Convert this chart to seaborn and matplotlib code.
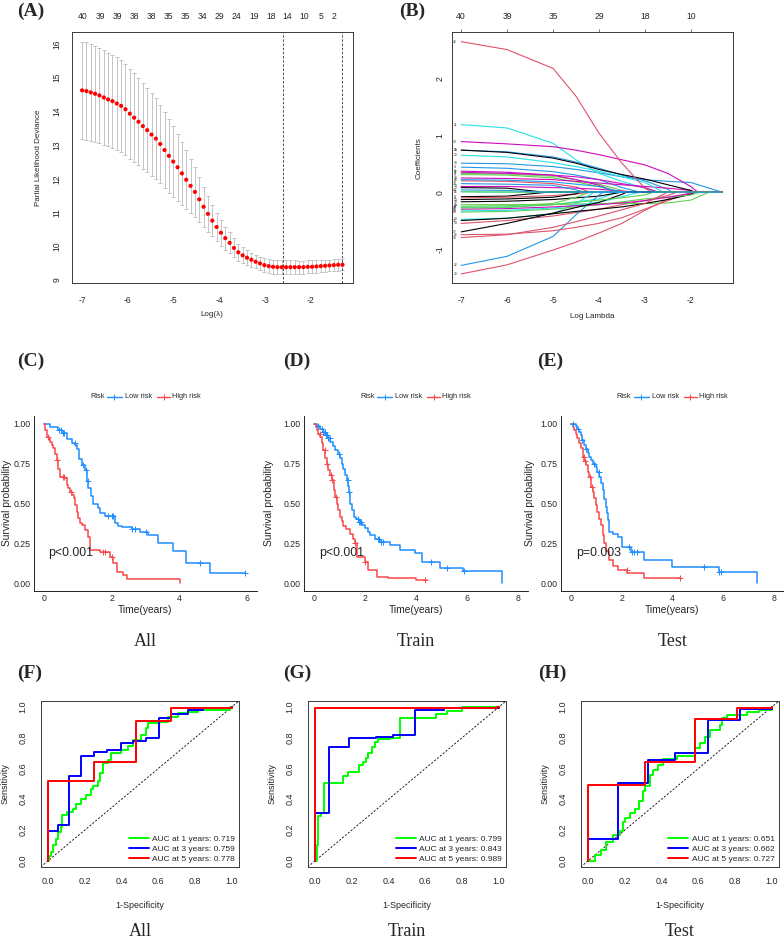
import numpy as np
import matplotlib
matplotlib.use("Agg")
import matplotlib.pyplot as plt
from matplotlib.lines import Line2D
import seaborn as sns

W, H = 784, 943

# ---------------- (A) cross-validated partial likelihood deviance ----------------
cv_loglambda = np.linspace(-7.0, -1.31, 61)   # glmnet lambda grid, even on the log scale
cv_deviance = [14.62, 14.60, 14.56, 14.52, 14.47, 14.41, 14.35, 14.30, 14.23, 14.16,
               14.06, 13.93, 13.81, 13.69, 13.56, 13.44, 13.31, 13.19, 13.03, 12.85,
               12.68, 12.51, 12.34, 12.16, 11.97, 11.79, 11.61, 11.39, 11.17, 10.96,
               10.76, 10.57, 10.40, 10.24, 10.10, 9.95, 9.82, 9.73, 9.66, 9.60,
               9.54, 9.49, 9.44, 9.41, 9.39, 9.38, 9.38, 9.38, 9.38, 9.38,
               9.38, 9.38, 9.39, 9.39, 9.40, 9.41, 9.42, 9.43, 9.44, 9.45, 9.45]
cv_se = [1.44, 1.44, 1.43, 1.42, 1.41, 1.40, 1.39, 1.38, 1.37, 1.36, 1.35,
         1.33, 1.31, 1.29, 1.27, 1.25, 1.23, 1.20, 1.17, 1.13, 1.09,
         1.04, 0.99, 0.93, 0.87, 0.81, 0.74, 0.67, 0.60, 0.53, 0.47,
         0.42, 0.38, 0.34, 0.31, 0.28, 0.26, 0.24, 0.22, 0.21, 0.20,
         0.20, 0.20, 0.20, 0.20, 0.20, 0.20, 0.20, 0.20, 0.20, 0.19,
         0.19, 0.19, 0.19, 0.18, 0.18, 0.18, 0.17, 0.17, 0.17, 0.16]
cv_df_pos = [-6.98, -6.60, -6.23, -5.85, -5.48, -5.11, -4.74, -4.37,
             -4.00, -3.63, -3.24, -2.87, -2.52, -2.15, -1.78, -1.50]
cv_df_labels = [40, 39, 39, 38, 38, 35, 35, 34, 29, 24, 19, 18, 14, 10, 5, 2]
lambda_min = -2.60
lambda_1se = -1.31

# ---------------- (B) coefficient paths ----------------
coef_ids = list(range(1, 41))
coef_m7 = [0.08, 0.20, 0.33, 0.44, 0.01, 0.37, -0.08, -0.10, 0.31, 0.51,
           1.19, 0.35, -0.13, -0.55, 0.005, 0.74, -0.27, 0.25, -0.17, -1.44,
           -0.22, -1.29, -0.48, 0.10, 0.74, -0.75, -0.25, 0.22, 0.65, 0.89,
           -0.50, 2.65, -0.35, 0.15, -0.33, -0.30, -0.70, -0.80, -0.28, 0.04]
coef_m6 = [0.07, 0.19, 0.32, 0.42, 0.0, 0.35, -0.07, -0.09, 0.30, 0.50,
           1.13, 0.33, -0.12, -0.50, 0.003, 0.71, -0.26, 0.24, -0.16, -1.28,
           -0.22, -1.13, -0.46, 0.10, 0.70, -0.74, -0.24, 0.21, 0.62, 0.85,
           -0.46, 2.51, -0.34, 0.14, -0.32, -0.29, -0.55, -0.75, -0.27, 0.03]
coef_m5 = [0.0, 0.15, 0.28, 0.36, 0.0, 0.30, 0.0, -0.06, 0.25, 0.45,
           0.86, 0.30, -0.09, -0.42, 0.0, 0.62, -0.22, 0.22, -0.13, -1.02,
           -0.22, -0.78, -0.38, 0.08, 0.60, -0.68, -0.20, 0.18, 0.52, 0.80,
           -0.38, 2.18, -0.30, 0.12, -0.28, -0.26, -0.37, -0.62, -0.22, 0.0]
coef_m45 = [0.0, 0.09, 0.22, 0.30, 0.0, 0.22, 0.0, -0.03, 0.18, 0.40,
            0.57, 0.27, -0.03, -0.36, 0.0, 0.53, -0.17, 0.19, -0.10, -0.88,
            -0.21, -0.40, -0.20, 0.07, 0.51, -0.62, -0.09, 0.14, 0.45, 0.74,
            -0.34, 1.69, -0.26, 0.04, -0.23, -0.24, -0.27, -0.52, -0.18, 0.0]
coef_m4 = [0.0, 0.0, 0.14, 0.22, 0.0, 0.12, 0.0, 0.0, 0.10, 0.34,
           0.33, 0.22, 0.0, -0.30, 0.0, 0.42, -0.12, 0.16, -0.07, -0.72,
           -0.20, -0.05, 0.0, 0.05, 0.40, -0.55, 0.0, 0.10, 0.37, 0.66,
           -0.30, 1.04, -0.22, 0.0, -0.18, -0.22, -0.18, -0.42, -0.14, 0.0]
coef_m35 = [0.0, 0.0, 0.03, 0.08, 0.0, 0.0, 0.0, 0.0, 0.0, 0.27,
            0.19, 0.15, 0.0, -0.22, 0.0, 0.30, 0.0, 0.13, 0.0, -0.55,
            -0.20, 0.0, 0.0, 0.02, 0.31, -0.45, 0.0, 0.0, 0.27, 0.57,
            -0.26, 0.51, -0.17, 0.0, -0.08, -0.19, -0.04, -0.31, -0.10, 0.0]
coef_m3 = [0.0, 0.0, 0.0, 0.0, 0.0, 0.0, 0.0, 0.0, 0.0, 0.22,
           0.07, 0.08, 0.0, -0.15, 0.0, 0.20, 0.0, 0.10, 0.0, -0.32,
           -0.20, 0.0, 0.0, 0.0, 0.23, -0.30, 0.0, 0.0, 0.17, 0.48,
           -0.20, 0.07, -0.12, 0.0, 0.0, -0.15, 0.0, -0.20, -0.05, 0.0]
coef_m25 = [0.0, 0.0, 0.0, 0.0, 0.0, 0.0, 0.0, 0.0, 0.0, 0.19,
            0.0, 0.0, 0.0, -0.06, 0.0, 0.05, 0.0, 0.07, 0.0, -0.12,
            -0.19, 0.0, 0.0, 0.0, 0.13, -0.15, 0.0, 0.0, 0.0, 0.33,
            -0.13, 0.0, -0.09, 0.0, 0.0, -0.09, 0.0, 0.0, 0.0, 0.0]
coef_m2 = [0.0, 0.0, 0.0, 0.0, 0.0, 0.0, 0.0, 0.0, 0.0, 0.17,
           0.0, 0.0, 0.0, 0.0, 0.0, 0.0, 0.0, 0.03, 0.0, -0.03,
           -0.14, 0.0, 0.0, 0.0, 0.03, -0.01, 0.0, 0.0, 0.0, 0.10,
           -0.04, 0.0, -0.05, 0.0, 0.0, -0.02, 0.0, 0.0, 0.0, 0.0]
coef_zero_at = [-5.2, -4.2, -3.4, -3.1, -6.5, -3.6, -5.1, -4.1, -3.6, -1.32,
                -2.75, -2.7, -4.4, -2.3, -5.6, -2.4, -3.6, -1.9, -3.5, -1.95,
                -1.6, -3.9, -4.1, -3.2, -1.95, -1.98, -4.2, -3.5, -2.6, -1.85,
                -1.9, -2.85, -1.8, -4.3, -3.1, -1.95, -3.4, -2.5, -2.8, -5.3]
path_knots = [-7, -6, -5, -4.5, -4, -3.5, -3, -2.5, -2]
path_end = -1.32
path_df_pos = [-7, -6, -5, -4, -3, -2]
path_df_labels = [40, 39, 35, 29, 18, 10]

# ---------------- (C-E) Kaplan-Meier curves ----------------
c_low_t = [0, 0.16, 0.42, 0.52, 0.67, 0.82, 0.92, 0.97, 1.03, 1.11, 1.21, 1.28, 1.31, 1.38, 1.44,
           1.58, 1.65, 1.80, 2.10, 2.20, 2.30, 2.59, 2.84, 3.08, 3.38, 3.82, 4.21, 4.90, 5.94]
c_low_s = [1.0, 0.982, 0.961, 0.944, 0.908, 0.883, 0.867, 0.842, 0.78, 0.74, 0.71, 0.64, 0.60, 0.55, 0.50,
           0.47, 0.44, 0.42, 0.38, 0.36, 0.35, 0.34, 0.32, 0.30, 0.25, 0.20, 0.124, 0.061, 0.061]
c_high_t = [0, 0.04, 0.08, 0.13, 0.18, 0.23, 0.275, 0.33, 0.374, 0.42, 0.47, 0.62, 0.67, 0.72, 0.77, 0.82,
            0.87, 0.92, 0.965, 1.01, 1.06, 1.11, 1.21, 1.31, 1.36, 1.65, 1.95, 2.05, 2.15, 2.34, 2.44, 4.02]
c_high_s = [1.0, 0.96, 0.92, 0.905, 0.888, 0.867, 0.846, 0.81, 0.773, 0.72, 0.669, 0.658, 0.616, 0.595, 0.574, 0.553,
            0.532, 0.49, 0.449, 0.41, 0.375, 0.365, 0.333, 0.291, 0.207, 0.197, 0.165, 0.124, 0.071, 0.05, 0.023, 0.0]
c_low_cens = [0.45, 0.50, 0.55, 0.60, 0.90, 1.15, 1.25, 1.30, 1.90, 2.00, 2.05, 2.60, 2.70, 3.00, 4.60, 5.94]
c_high_cens = [0.10, 0.38, 0.55, 0.60, 0.80, 1.75, 1.80, 2.00]

d_low_t = [0, 0.10, 0.22, 0.32, 0.42, 0.52, 0.62, 0.72, 0.81, 0.91, 1.01, 1.08, 1.14, 1.21, 1.27, 1.31, 1.34, 1.38,
           1.41, 1.47, 1.54, 1.62, 1.75, 1.88, 2.00, 2.10, 2.20, 2.40, 2.59, 2.98, 3.37, 3.96, 4.22, 4.94, 5.86, 7.38]
d_low_s = [1.0, 0.99, 0.97, 0.95, 0.93, 0.91, 0.889, 0.86, 0.836, 0.81, 0.784, 0.75, 0.72, 0.68, 0.647, 0.61, 0.574, 0.54,
           0.50, 0.46, 0.417, 0.40, 0.385, 0.365, 0.344, 0.32, 0.30, 0.28, 0.26, 0.239, 0.207, 0.186, 0.134, 0.092, 0.075, 0.0]
d_high_t = [0, 0.05, 0.09, 0.15, 0.22, 0.28, 0.35, 0.42, 0.48, 0.55, 0.62, 0.68, 0.75, 0.81, 0.88,
            0.94, 1.01, 1.08, 1.14, 1.25, 1.41, 1.50, 1.60, 1.67, 1.99, 2.12, 2.45, 2.91, 4.00, 4.42]
d_high_s = [1.0, 0.98, 0.96, 0.94, 0.92, 0.88, 0.836, 0.784, 0.75, 0.71, 0.68, 0.647, 0.585, 0.54, 0.50,
            0.46, 0.417, 0.39, 0.36, 0.34, 0.31, 0.28, 0.25, 0.165, 0.134, 0.082, 0.04, 0.029, 0.019, 0.019]
d_low_cens = [0.12, 0.30, 0.35, 0.40, 0.45, 0.50, 0.55, 0.60, 0.95, 1.30, 1.35, 1.70, 1.75, 1.80, 1.85,
              2.50, 2.55, 2.60, 2.70, 4.60, 5.20, 5.90]
d_high_cens = [0.20, 0.40, 0.50, 0.65, 0.70, 0.85, 1.60, 2.00, 4.35]

e_low_t = [0, 0.20, 0.26, 0.33, 0.39, 0.45, 0.52, 0.59, 0.66, 0.72, 0.79, 0.88, 0.98, 1.05, 1.12,
           1.18, 1.25, 1.31, 1.38, 1.43, 1.47, 1.51, 1.65, 1.84, 2.03, 2.36, 2.89, 4.00, 5.84, 7.35]
e_low_s = [1.0, 0.99, 0.97, 0.95, 0.93, 0.90, 0.867, 0.84, 0.815, 0.79, 0.773, 0.75, 0.731, 0.70, 0.668,
           0.63, 0.585, 0.53, 0.48, 0.44, 0.396, 0.323, 0.31, 0.291, 0.228, 0.197, 0.145, 0.103, 0.071, 0.0]
e_high_t = [0, 0.08, 0.13, 0.20, 0.26, 0.33, 0.39, 0.46, 0.52, 0.59, 0.66, 0.72, 0.79, 0.86,
            0.92, 0.98, 1.05, 1.12, 1.18, 1.25, 1.31, 1.40, 1.51, 1.65, 1.84, 2.23, 2.89, 4.33]
e_high_s = [1.0, 0.98, 0.961, 0.935, 0.909, 0.88, 0.846, 0.794, 0.77, 0.741, 0.70, 0.668, 0.606, 0.57,
            0.532, 0.49, 0.449, 0.40, 0.365, 0.30, 0.249, 0.20, 0.144, 0.11, 0.082, 0.065, 0.029, 0.029]
e_low_cens = [0.10, 0.30, 0.45, 0.60, 0.90, 1.10, 2.30, 2.40, 2.50, 2.60, 5.25, 5.85, 5.90]
e_high_cens = [0.50, 0.55, 0.75, 0.85, 2.20, 4.30]

km_pvalues = ["p<0.001", "p<0.001", "p=0.003"]
km_groups = ["Low risk", "High risk"]
cohorts = ["All", "Train", "Test"]

# ---------------- (F-H) time-dependent ROC ----------------
roc_years = [1, 3, 5]
f_fp_1y = [0, 0.005, 0.014, 0.027, 0.041, 0.054, 0.068, 0.075, 0.103, 0.136, 0.15, 0.177, 0.204, 0.231, 0.245, 0.272,
           0.285, 0.299, 0.326, 0.34, 0.394, 0.435, 0.462, 0.503, 0.53, 0.543, 0.611, 0.652, 0.707, 0.761, 0.815, 0.99, 1.0]
f_tp_1y = [0, 0.03, 0.058, 0.10, 0.14, 0.19, 0.22, 0.30, 0.315, 0.336, 0.37, 0.40, 0.43, 0.465, 0.486, 0.518,
           0.57, 0.636, 0.657, 0.70, 0.72, 0.743, 0.786, 0.818, 0.86, 0.893, 0.90, 0.936, 0.957, 0.968, 0.979, 1.0, 1.0]
f_fp_3y = [0, 0, 0.054, 0.114, 0.18, 0.25, 0.318, 0.394, 0.46, 0.53, 0.606, 0.666, 0.76, 0.84, 1.0]
f_tp_3y = [0, 0.197, 0.235, 0.55, 0.68, 0.707, 0.72, 0.765, 0.78, 0.797, 0.925, 0.953, 0.98, 0.99, 1.0]
f_fp_5y = [0, 0, 0.25, 0.48, 0.67, 1.0]
f_tp_5y = [0, 0.52, 0.645, 0.91, 0.99, 1.0]
f_auc = [0.719, 0.759, 0.778]

g_fp_1y = [0, 0.01, 0.015, 0.03, 0.05, 0.15, 0.18, 0.24, 0.262, 0.277, 0.29, 0.307, 0.325, 0.343, 0.407,
           0.461, 0.66, 0.715, 0.80, 1.0]
g_tp_1y = [0, 0.10, 0.29, 0.31, 0.505, 0.55, 0.575, 0.625, 0.645, 0.67, 0.70, 0.74, 0.77, 0.79, 0.80,
           0.93, 0.955, 0.975, 1.0, 1.0]
g_fp_3y = [0, 0, 0.075, 0.186, 0.33, 0.425, 0.545, 0.70, 1.0]
g_tp_3y = [0, 0.31, 0.74, 0.795, 0.805, 0.82, 0.98, 0.99, 1.0]
g_fp_5y = [0, 0, 0.99, 1.0]
g_tp_5y = [0, 0.99, 1.0, 1.0]
g_auc = [0.799, 0.843, 0.989]

h_fp_1y = [0, 0.014, 0.04, 0.068, 0.095, 0.135, 0.176, 0.19, 0.203, 0.23, 0.257, 0.278, 0.297, 0.311, 0.338,
           0.351, 0.378, 0.405, 0.486, 0.581, 0.608, 0.635, 0.662, 0.716, 0.73, 0.757, 0.865, 0.932, 1.0]
h_tp_1y = [0, 0.0, 0.036, 0.068, 0.12, 0.165, 0.197, 0.25, 0.28, 0.31, 0.336, 0.39, 0.454, 0.486, 0.56,
           0.59, 0.625, 0.66, 0.68, 0.73, 0.765, 0.807, 0.85, 0.88, 0.925, 0.946, 0.968, 0.979, 0.99]
h_fp_3y = [0, 0, 0.162, 0.324, 0.473, 0.652, 0.826, 1.0]
h_tp_3y = [0, 0.145, 0.505, 0.655, 0.70, 0.915, 0.985, 1.0]
h_fp_5y = [0, 0, 0.31, 0.58, 0.81, 1.0]
h_tp_5y = [0, 0.495, 0.645, 0.92, 0.99, 1.0]
h_auc = [0.651, 0.662, 0.727]

# ---------------- style ----------------
sns.set_style("white")
SANS = ["Liberation Sans", "DejaVu Sans"]
SERIF = ["Liberation Serif", "DejaVu Serif"]
plt.rcParams["font.family"] = SANS
plt.rcParams["axes.unicode_minus"] = False

R_PAL = ["black", "#DF536B", "#61D04F", "#2297E6", "#28E2E5", "#CD0BBC"]
KM_COLORS = ["#1E8EFF", "#F8484A"]
ROC_COLORS = ["#00FF00", "#0000FF", "#FF0000"]
BOX = "#3a3a3a"

fig = plt.figure(figsize=(W / 100, H / 100), dpi=100)


def axes_px(l, t, r, b):
    return fig.add_axes([l / W, 1 - b / H, (r - l) / W, (b - t) / H])


def text_px(x, y, s, **kw):
    kw.setdefault("ha", "center")
    kw.setdefault("va", "center")
    return fig.text(x / W, 1 - y / H, s, **kw)


def r_style(ax, size, ypad, xpad):
    for sp in ax.spines.values():
        sp.set_visible(True)
        sp.set_color(BOX)
        sp.set_linewidth(0.7)
    ax.set_xlabel("")
    ax.set_ylabel("")
    ax.tick_params(direction="out", length=3, width=0.6, color=BOX, labelsize=size)
    ax.tick_params(axis="y", labelrotation=90, pad=ypad)
    ax.tick_params(axis="x", pad=xpad)
    for lab in ax.get_yticklabels():
        lab.set_verticalalignment("center")


def panel_label(x, y, s):
    text_px(x, y, s, ha="left", family=SERIF, fontsize=14, fontweight="bold")


# ---------------- (A) ----------------
axA = axes_px(72, 32, 353, 283)
axA.errorbar(cv_loglambda, cv_deviance, yerr=cv_se, fmt="none", ecolor="#c4c4c4",
             elinewidth=0.7, capsize=1.6, capthick=0.7, zorder=1)
sns.scatterplot(x=cv_loglambda, y=cv_deviance, ax=axA, color="red", s=9,
                edgecolor="none", zorder=3, legend=False)
for v in (lambda_min, lambda_1se):
    axA.axvline(v, color="#333333", lw=0.6, ls=(0, (3, 2)))
axA.set_xlim(-7.22, -1.08)
axA.set_ylim(8.91, 16.35)
axA.set_xticks(range(-7, -1))
axA.set_yticks(range(9, 17))
r_style(axA, 6.2, 4.8, 6.2)
topA = axA.secondary_xaxis("top")
topA.set_xticks(cv_df_pos, labels=[str(v) for v in cv_df_labels])
topA.tick_params(length=0, pad=8, labelsize=6.2)
topA.spines["top"].set_visible(False)
text_px(39, 158, "Partial Likelihood Deviance", rotation=90, fontsize=5.8)
text_px(212, 315, "Log(\u03bb)", fontsize=5.8)
panel_label(17, 11, "(A)")

# ---------------- (B) ----------------
axB = axes_px(452, 32, 733, 283)
for i, vid in enumerate(coef_ids):
    vals = [coef_m7[i], coef_m6[i], coef_m5[i], coef_m45[i], coef_m4[i],
            coef_m35[i], coef_m3[i], coef_m25[i], coef_m2[i]]
    alive = [(k, v) for k, v in zip(path_knots, vals) if k < coef_zero_at[i]]
    xs = [k for k, _ in alive] + [coef_zero_at[i], path_end]
    ys = [v for _, v in alive] + [0.0, 0.0]
    sns.lineplot(x=xs, y=ys, ax=axB, color=R_PAL[(vid - 1) % 6], lw=0.8,
                 estimator=None, sort=False, errorbar=None)
    axB.text(-7.13, coef_m7[i], str(vid), fontsize=2.4, ha="center", va="center", color="#333333")
axB.set_xlim(-7.2, -1.08)
axB.set_ylim(-1.6, 2.82)
axB.set_xticks(range(-7, -1))
axB.set_yticks([-1, 0, 1, 2])
r_style(axB, 6.2, 2.3, 6.2)
topB = axB.secondary_xaxis("top")
topB.set_xticks(path_df_pos, labels=[str(v) for v in path_df_labels])
topB.tick_params(length=2, width=0.5, color=BOX, pad=6, labelsize=6.2)
topB.spines["top"].set_visible(False)
text_px(419, 158, "Coefficients", rotation=90, fontsize=5.8)
text_px(592, 317, "Log Lambda", fontsize=5.8)
panel_label(399, 11, "(B)")

# ---------------- (C-E) ----------------
km_data = [
    (c_low_t, c_low_s, c_low_cens, c_high_t, c_high_s, c_high_cens),
    (d_low_t, d_low_s, d_low_cens, d_high_t, d_high_s, d_high_cens),
    (e_low_t, e_low_s, e_low_cens, e_high_t, e_high_s, e_high_cens),
]
km_left = [34, 304.3, 560.7]
km_right = [257, 528, 784]
km_xmax = [6, 8, 8]
km_pval_x = [0.12, 0.19, 0.20]
km_ylab_x = [7, 269, 530]
km_labels = ["(C)", "(D)", "(E)"]
km_label_x = [17, 283, 537]

for j in range(3):
    ax = axes_px(km_left[j], 416, km_right[j], 591)
    curves = km_data[j]
    for g in range(2):
        t, s, cens = curves[3 * g], curves[3 * g + 1], curves[3 * g + 2]
        sns.lineplot(x=t, y=s, ax=ax, color=KM_COLORS[g], lw=1.1, drawstyle="steps-post",
                     estimator=None, sort=False, errorbar=None)
        idx = np.searchsorted(t, cens, side="right") - 1
        sns.scatterplot(x=cens, y=np.asarray(s)[idx], ax=ax, marker="+", color=KM_COLORS[g],
                        s=16, linewidth=0.7, legend=False, zorder=3)
    xm = km_xmax[j]
    ax.set_xlim(-0.05 * xm, 1.05 * xm)
    ax.set_ylim(-0.05, 1.05)
    ax.set_xticks(range(0, xm + 1, 2))
    ax.set_yticks([0, 0.25, 0.5, 0.75, 1.0], labels=["0.00", "0.25", "0.50", "0.75", "1.00"])
    ax.set_xlabel("")
    ax.set_ylabel("")
    for side in ("top", "right"):
        ax.spines[side].set_visible(False)
    for side in ("left", "bottom"):
        ax.spines[side].set_color("black")
        ax.spines[side].set_linewidth(0.6)
    ax.tick_params(direction="out", length=1.5, width=0.5, pad=1, labelsize=6.3, color="black")
    ax.text(km_pval_x[j], 0.19, km_pvalues[j], ha="left", va="center", fontsize=8.9)

    x0 = km_left[j]
    cx = (km_left[j] + km_right[j]) / 2
    text_px(cx, 610, "Time(years)", fontsize=7.4)
    text_px(km_ylab_x[j], 503, "Survival probability", rotation=90, fontsize=7.4)
    # legend strip above the panel
    text_px(x0 + 56, 396.5, "Risk", ha="left", fontsize=5.3)
    for g, (a, b, tx) in enumerate([(73, 88, 91), (123, 136, 138)]):
        fig.add_artist(Line2D([(x0 + a) / W, (x0 + (a + b) / 2) / W, (x0 + b) / W],
                              [1 - 396.5 / H] * 3, transform=fig.transFigure,
                              color=KM_COLORS[g], lw=1.0, marker="+", markevery=[1], ms=4, mew=0.7))
        text_px(x0 + tx, 396.5, km_groups[g], ha="left", fontsize=5.3)
    text_px(cx, 641, cohorts[j], family=SERIF, fontsize=13)
    panel_label(km_label_x[j], 361, km_labels[j])

# ---------------- (F-H) ----------------
roc_data = [
    [(f_fp_1y, f_tp_1y), (f_fp_3y, f_tp_3y), (f_fp_5y, f_tp_5y)],
    [(g_fp_1y, g_tp_1y), (g_fp_3y, g_tp_3y), (g_fp_5y, g_tp_5y)],
    [(h_fp_1y, h_tp_1y), (h_fp_3y, h_tp_3y), (h_fp_5y, h_tp_5y)],
]
roc_auc = [f_auc, g_auc, h_auc]
roc_left = [40.7, 307.7, 580.7]
roc_labels = ["(F)", "(G)", "(H)"]
roc_label_x = [17, 283, 538]

for j in range(3):
    l = roc_left[j]
    ax = axes_px(l, 700.7, l + 198.6, 867)
    ax.axline((0, 0), slope=1, color="black", lw=0.6, ls=(0, (2.5, 2)))
    handles = []
    for k in range(3):
        fp, tp = roc_data[j][k]
        sns.lineplot(x=fp, y=tp, ax=ax, color=ROC_COLORS[k], lw=1.4, drawstyle="steps-post",
                     estimator=None, sort=False, errorbar=None)
        handles.append(Line2D([], [], color=ROC_COLORS[k], lw=1.4))
    ax.set_xlim(-0.04, 1.04)
    ax.set_ylim(-0.04, 1.04)
    ticks = [0, 0.2, 0.4, 0.6, 0.8, 1.0]
    ax.set_xticks(ticks, labels=[f"{v:.1f}" for v in ticks])
    ax.set_yticks(ticks, labels=[f"{v:.1f}" for v in ticks])
    r_style(ax, 6.5, 6.5, 4.5)
    ax.legend(handles, [f"AUC at {y} years: {a:.3f}" for y, a in zip(roc_years, roc_auc[j])],
              loc="lower right", frameon=False, fontsize=6, handlelength=2.4,
              handletextpad=0.45, labelspacing=0.25, borderaxespad=0.2, borderpad=0.3)
    cx = l + 99.3
    text_px(l - 36, 784, "Sensitivity", rotation=90, fontsize=6.5)
    text_px(cx, 905, "1-Specificity", fontsize=6.5)
    text_px(cx, 932, cohorts[j], family=SERIF, fontsize=13)
    panel_label(roc_label_x[j], 673, roc_labels[j])

fig.savefig("out.png", dpi=100)
